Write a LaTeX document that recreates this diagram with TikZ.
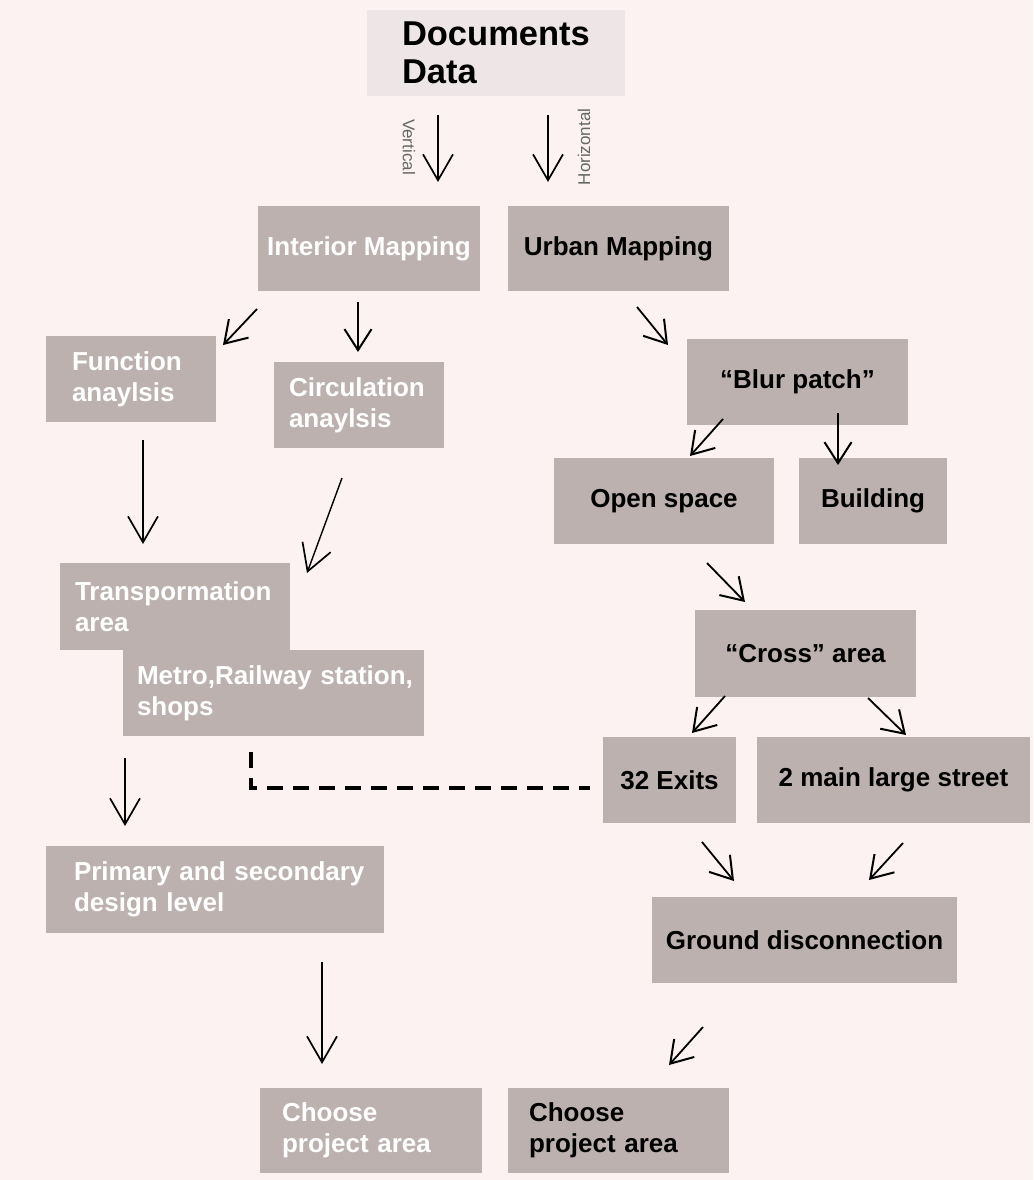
\documentclass[tikz,border=0pt]{standalone}
\usepackage{fontspec}
\setmainfont{Liberation Sans}
\usetikzlibrary{arrows.meta}
\definecolor{bgc}{HTML}{FCF2F2}
\definecolor{boxc}{HTML}{BDB1B0}
\definecolor{docc}{HTML}{EEE6E6}
\definecolor{labc}{HTML}{666666}
\hbadness=10000 \hfuzz=100pt
\tikzset{
  box/.style={fill=boxc, draw=none, inner ysep=0pt, font=\fontsize{26}{31}\selectfont\bfseries},
  wtext/.style={text=white},
  btext/.style={text=black},
  lbox/.style={box, align=left},
  cbox/.style={box, align=center, inner xsep=0pt},
  flow/.style={line width=1.8pt, -{Straight Barb[length=21pt,width=27pt,line width=2pt]}},
  vflow/.style={line width=1.4pt, -{Straight Barb[length=26pt,width=30pt,line width=1.7pt]}},
  dash line/.style={line width=3.5pt, dash pattern=on 16pt off 10pt},
  lab/.style={text=labc, font=\fontsize{17}{17}\selectfont, inner sep=0pt}
}
\begin{document}
\begin{tikzpicture}[x=1pt,y=-1pt]
\fill[bgc] (0,0) rectangle (1033,1180);
\useasboundingbox (0,0) rectangle (1033,1180);

% top
\node[fill=docc, minimum width=258pt, minimum height=86pt, inner xsep=35pt, inner ysep=0pt, text width=188pt, align=left, font=\fontsize{34.5}{38}\selectfont\bfseries] (doc) at (496,53) {Documents\\Data};

\node[cbox, wtext, minimum width=222pt, minimum height=85pt] (interior) at (369,248.5) {Interior Mapping};
\node[cbox, btext, minimum width=221pt, minimum height=85pt] (urban) at (618.5,248.5) {Urban Mapping};

% left branch
\node[lbox, wtext, inner xsep=26pt, text width=118pt, minimum height=86pt] (func) at (131,379) {Function\\anaylsis};
\node[lbox, wtext, inner xsep=15pt, text width=140pt, minimum height=86pt] (circ) at (359,405) {Circulation\\anaylsis};
\node[lbox, wtext, inner xsep=15pt, text width=200pt, minimum height=87pt] (trans) at (175,606.5) {\mbox{Transpormation}\\area};
\node[lbox, wtext, inner xsep=14pt, text width=273pt, minimum height=86pt] (metro) at (273.5,693) {\mbox{Metro,Railway station,}\\shops};
\node[lbox, wtext, inner xsep=28pt, text width=282pt, minimum height=87pt] (primary) at (215,889.5) {\mbox{Primary and secondary}\\design level};
\node[lbox, wtext, inner xsep=22pt, text width=178pt, minimum height=85pt] (chooseL) at (371,1130.5) {Choose\\project area};

% right branch
\node[cbox, btext, minimum width=221pt, minimum height=86pt] (blur) at (797.5,382) {``Blur patch''};
\node[cbox, btext, minimum width=220pt, minimum height=86pt] (open) at (664,501) {Open space};
\node[cbox, btext, minimum width=148pt, minimum height=86pt] (building) at (873,501) {Building};
\node[cbox, btext, minimum width=221pt, minimum height=87pt] (cross) at (805.5,653.5) {``Cross'' area};
\node[cbox, btext, minimum width=133pt, minimum height=86pt] (exits) at (669.5,780) {32 Exits};
\node[cbox, btext, minimum width=273pt, minimum height=86pt] (street) at (893.5,780) {2 main large street};
\node[cbox, btext, minimum width=305pt, minimum height=86pt] (ground) at (804.5,940) {Ground disconnection};
\node[lbox, btext, inner xsep=21pt, text width=179pt, minimum height=85pt] (chooseR) at (618.5,1130.5) {Choose\\project area};

% labels
\node[lab, rotate=-90] (vlab) at (409,147) {Vertical};
\node[lab, rotate=90] (hlab) at (584,147) {Horizontal};

% arrow coordinates
\coordinate (a1s) at (438,115);  \coordinate (a1e) at (438,182);
\coordinate (a2s) at (548,115);  \coordinate (a2e) at (548,182);
\coordinate (a3s) at (257,309);  \coordinate (a3e) at (223,345);
\coordinate (a4s) at (358,302);  \coordinate (a4e) at (358,352);
\coordinate (a5s) at (143,440);  \coordinate (a5e) at (143,544);
\coordinate (a6s) at (342,478);  \coordinate (a6e) at (307,573);
\coordinate (a7s) at (125,758);  \coordinate (a7e) at (125,826);
\coordinate (a8s) at (322,962);  \coordinate (a8e) at (322,1064);
\coordinate (a9s) at (703,1027); \coordinate (a9e) at (669,1065);
\coordinate (a10s) at (637,307); \coordinate (a10e) at (668,345);
\coordinate (a11s) at (723,419); \coordinate (a11e) at (690,456);
\coordinate (a12s) at (838,413); \coordinate (a12e) at (838,465);
\coordinate (a13s) at (707,563); \coordinate (a13e) at (745,602);
\coordinate (a14s) at (725,696); \coordinate (a14e) at (692,733);
\coordinate (a15s) at (868,698); \coordinate (a15e) at (906,735);
\coordinate (a16s) at (702,842); \coordinate (a16e) at (734,881);
\coordinate (a17s) at (903,843); \coordinate (a17e) at (869,880);

\draw[vflow] (a1s) -- (a1e);
\draw[vflow] (a2s) -- (a2e);
\draw[flow] (a3s) -- (a3e);
\draw[flow] (a4s) -- (a4e);
\draw[vflow] (a5s) -- (a5e);
\draw[vflow] (a6s) -- (a6e);
\draw[vflow] (a7s) -- (a7e);
\draw[vflow] (a8s) -- (a8e);
\draw[flow] (a9s) -- (a9e);
\draw[flow] (a10s) -- (a10e);
\draw[flow] (a11s) -- (a11e);
\draw[flow] (a12s) -- (a12e);
\draw[flow] (a13s) -- (a13e);
\draw[flow] (a14s) -- (a14e);
\draw[flow] (a15s) -- (a15e);
\draw[flow] (a16s) -- (a16e);
\draw[flow] (a17s) -- (a17e);

% dashed link
\coordinate (d1) at (251,752);
\coordinate (d2) at (590,788);
\draw[dash line] (d1) |- (d2);
\end{tikzpicture}
\end{document}
